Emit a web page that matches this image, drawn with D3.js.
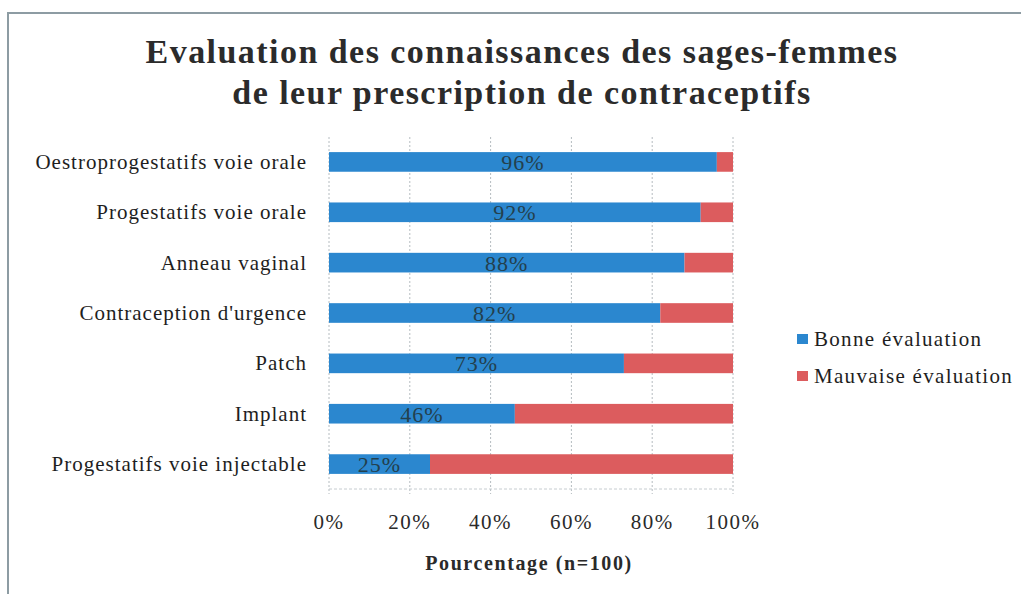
<!DOCTYPE html>
<html>
<head>
<meta charset="utf-8">
<script src="https://cdn.jsdelivr.net/npm/d3@7"></script>
<style>
  body { margin: 0; background: #fff; }
  text { font-family: "Liberation Serif", "Times New Roman", serif; }
</style>
</head>
<body>
<div id="chart"></div>
<script>
// data
var categories = ["Oestroprogestatifs voie orale", "Progestatifs voie orale", "Anneau vaginal",
  "Contraception d'urgence", "Patch", "Implant", "Progestatifs voie injectable"];
var bonne = [96, 92, 88, 82, 73, 46, 25];
var mauvaise = [4, 8, 12, 18, 27, 54, 75];
var seriesNames = ["Bonne évaluation", "Mauvaise évaluation"];
var seriesColors = ["#2b87cf", "#dc5c5e"];
var xTicks = [0, 20, 40, 60, 80, 100];
var titleLines = ["Evaluation des connaissances des sages-femmes", "de leur prescription de contraceptifs"];
var xTitle = "Pourcentage (n=100)";

var W = 1021, H = 594;
var svg = d3.select("#chart").append("svg").attr("width", W).attr("height", H);

// frame
svg.append("rect").attr("x", 8).attr("y", 13).attr("width", W + 10).attr("height", H + 10)
  .attr("fill", "none").attr("stroke", "#8d9ca3").attr("stroke-width", 2);

var plot = {left: 329, right: 733, top: 137, bottom: 489};

var x = d3.scaleLinear().domain([0, 100]).range([plot.left, plot.right]);
var y = d3.scaleBand().domain(categories).range([plot.top, plot.bottom]).paddingInner(0.61).paddingOuter(0.3);

// title
svg.append("g").selectAll("text").data(titleLines).enter().append("text")
  .attr("x", 522).attr("y", function(d, i){ return 63 + i * 41; })
  .attr("text-anchor", "middle").attr("font-size", 34).attr("font-weight", "bold")
  .attr("letter-spacing", 1.45).attr("fill", "#2b2b2b")
  .text(function(d){ return d; });

// grid
var grid = svg.append("g");
grid.selectAll("line").data(xTicks).enter().append("line")
  .attr("x1", function(d){ return x(d); }).attr("x2", function(d){ return x(d); })
  .attr("y1", plot.top).attr("y2", plot.bottom + 5)
  .attr("stroke", "#b5bcc0").attr("stroke-width", 1).attr("stroke-dasharray", "2,2");
grid.append("line").attr("x1", plot.left).attr("x2", plot.right)
  .attr("y1", plot.bottom).attr("y2", plot.bottom)
  .attr("stroke", "#c6ccd0").attr("stroke-width", 1).attr("stroke-dasharray", "3,2");

// bars
var rows = categories.map(function(c, i){ return {cat: c, b: bonne[i], m: mauvaise[i]}; });
var bars = svg.append("g");
bars.selectAll(".bonne").data(rows).enter().append("rect")
  .attr("x", x(0)).attr("y", function(d){ return y(d.cat); })
  .attr("width", function(d){ return x(d.b) - x(0); }).attr("height", y.bandwidth())
  .attr("fill", seriesColors[0]);
bars.selectAll(".mauvaise").data(rows).enter().append("rect")
  .attr("x", function(d){ return x(d.b); }).attr("y", function(d){ return y(d.cat); })
  .attr("width", function(d){ return x(d.b + d.m) - x(d.b); }).attr("height", y.bandwidth())
  .attr("fill", seriesColors[1]);

// data labels
bars.selectAll(".lbl").data(rows).enter().append("text")
  .attr("x", function(d){ return x(d.b / 2); })
  .attr("y", function(d){ return y(d.cat) + y.bandwidth() / 2 + 8; })
  .attr("text-anchor", "middle").attr("font-size", 22).attr("letter-spacing", 1)
  .attr("fill", "#23404d")
  .text(function(d){ return d.b + "%"; });

// category axis
svg.append("g").selectAll("text").data(categories).enter().append("text")
  .attr("x", 307).attr("y", function(d){ return y(d) + y.bandwidth() / 2 + 7; })
  .attr("text-anchor", "end").attr("font-size", 21).attr("letter-spacing", 1)
  .attr("fill", "#1e1e1e")
  .text(function(d){ return d; });

// x axis labels
svg.append("g").selectAll("text").data(xTicks).enter().append("text")
  .attr("x", function(d){ return x(d); }).attr("y", 529)
  .attr("text-anchor", "middle").attr("font-size", 21).attr("letter-spacing", 1.5)
  .attr("fill", "#2a2a2a")
  .text(function(d){ return d + "%"; });

svg.append("text").attr("x", 529).attr("y", 570)
  .attr("text-anchor", "middle").attr("font-size", 20).attr("font-weight", "bold")
  .attr("letter-spacing", 1.6).attr("fill", "#2a2a2a").text(xTitle);

// legend
var leg = svg.append("g").selectAll("g").data(seriesNames).enter().append("g")
  .attr("transform", function(d, i){ return "translate(797," + (334 + i * 37) + ")"; });
leg.append("rect").attr("width", 11).attr("height", 10)
  .attr("fill", function(d, i){ return seriesColors[i]; });
leg.append("text").attr("x", 17).attr("y", 12).attr("font-size", 21).attr("letter-spacing", 1.3)
  .attr("fill", "#1e1e1e")
  .text(function(d){ return d; });
</script>
</body>
</html>
